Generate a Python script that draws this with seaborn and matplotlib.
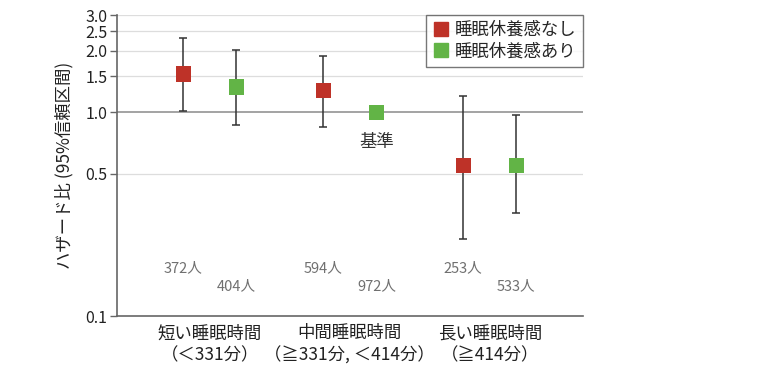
import matplotlib
matplotlib.use('Agg')
import matplotlib.pyplot as plt
import numpy as np
import pandas as pd
import seaborn as sns
from matplotlib.lines import Line2D
from matplotlib.ticker import FixedLocator, NullLocator

# data
categories = ['短い睡眠時間\n（＜331分）', '中間睡眠時間\n（≧331分, ＜414分）', '長い睡眠時間\n（≧414分）']
groups = ['睡眠休養感なし', '睡眠休養感あり']

hr_no_rest = [1.54, 1.28, 0.55]
lo_no_rest = [1.01, 0.846, 0.24]
hi_no_rest = [2.32, 1.89, 1.205]
n_no_rest = [372, 594, 253]

hr_rest = [1.33, 1.00, 0.55]
lo_rest = [0.87, 1.00, 0.319]
hi_rest = [2.02, 1.00, 0.969]
n_rest = [404, 972, 533]

y_ticks = [0.1, 0.5, 1.0, 1.5, 2.0, 2.5, 3.0]

RED = '#BE3228'
GREEN = '#62B446'
OFFSET = 0.19

sns.set_theme(style='white')
plt.rcParams['font.family'] = ['Noto Sans CJK JP', 'DejaVu Sans']

rows = []
for i, cat in enumerate(categories):
    rows.append(dict(cat=i, x=i - OFFSET, group=groups[0], hr=hr_no_rest[i],
                     lo=lo_no_rest[i], hi=hi_no_rest[i], n=n_no_rest[i]))
    rows.append(dict(cat=i, x=i + OFFSET, group=groups[1], hr=hr_rest[i],
                     lo=lo_rest[i], hi=hi_rest[i], n=n_rest[i]))
df = pd.DataFrame(rows)

fig, ax = plt.subplots(figsize=(7.8, 3.75), dpi=100)
fig.subplots_adjust(left=0.15, right=0.747, top=0.96, bottom=0.157)

ax.set_yscale('log')
ax.set_ylim(0.1, 3.0)
ax.set_xlim(-0.664, 2.664)

for t in [0.5, 1.5, 2.0, 2.5, 3.0]:
    ax.axhline(t, color='#dddddd', lw=0.9, zorder=0)
ax.axhline(1.0, color='#8a8a8a', lw=1.1, zorder=1)

# confidence intervals (skip the reference group)
ci = df[df.lo < df.hi]
ax.errorbar(ci.x, ci.hr, yerr=[ci.hr - ci.lo, ci.hi - ci.hr], fmt='none',
            ecolor='#333333', elinewidth=1.1, capsize=3.2, capthick=1.1, zorder=2)

sns.scatterplot(data=df, x='x', y='hr', hue='group', palette=[RED, GREEN],
                marker='s', s=120, edgecolor='none', legend=False, ax=ax, zorder=3)

for _, r in df.iterrows():
    y = 0.172 if r.group == groups[0] else 0.140
    ax.text(r.x, y, f'{r.n}人', ha='center', va='center', fontsize=10.5, color='#707070')

ax.text(1 + OFFSET, 0.716, '基準', ha='center', va='center', fontsize=12.5, color='#333333')

ax.set_xticks(range(len(categories)))
ax.set_xticklabels(categories, fontsize=12.5, color='#222222', linespacing=1.3)
ax.tick_params(axis='x', length=0, pad=6)

ax.yaxis.set_major_locator(FixedLocator(y_ticks))
ax.yaxis.set_minor_locator(NullLocator())
ax.set_yticklabels([f'{t:.1f}' for t in y_ticks], fontsize=11.5, color='#222222')
ax.tick_params(axis='y', direction='out', length=5, width=1, color='#666666', pad=2, left=True)

ax.set_xlabel('')
ax.set_ylabel('ハザード比 (95%信頼区間)', fontsize=12.5, color='#222222', labelpad=8)

for side in ['top', 'right']:
    ax.spines[side].set_visible(False)
for side in ['left', 'bottom']:
    ax.spines[side].set_color('#666666')
    ax.spines[side].set_linewidth(1.2)

handles = [Line2D([], [], marker='s', ls='none', color=c, markersize=10) for c in [RED, GREEN]]
leg = ax.legend(handles, groups, loc='upper right', bbox_to_anchor=(1.0, 1.0), fontsize=12.5,
                frameon=True, fancybox=False, edgecolor='#555555', handletextpad=0.3,
                borderpad=0.35, labelspacing=0.2, handlelength=1.0, borderaxespad=0)
leg.get_frame().set_linewidth(1.0)

fig.savefig('out.png', dpi=100)
